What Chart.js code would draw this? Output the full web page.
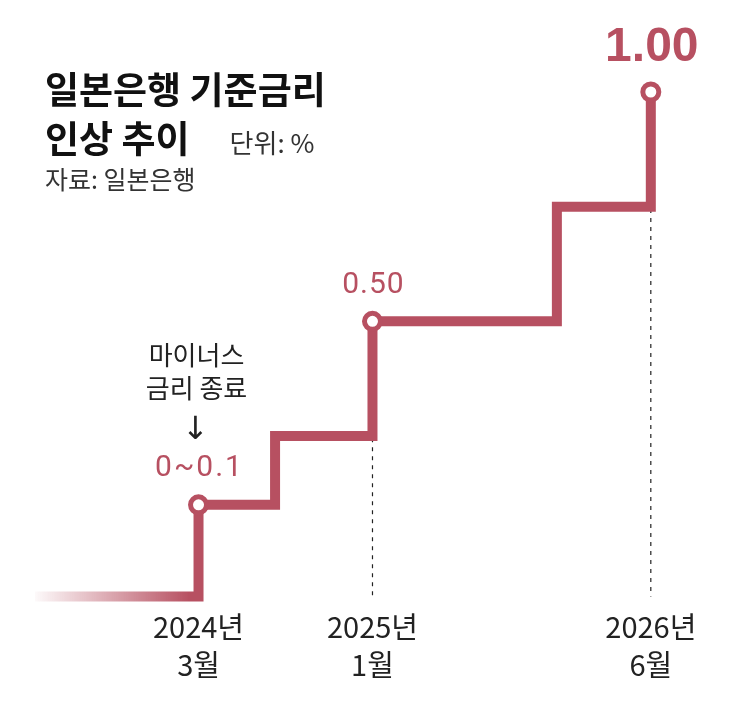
<!DOCTYPE html>
<html>
<head>
<meta charset="utf-8">
<title>일본은행 기준금리 인상 추이</title>
<script src="https://cdn.jsdelivr.net/npm/chart.js@4/dist/chart.umd.min.js"></script>
<style>
  body { margin: 0; background: #fff; }
  #wrap { position: relative; width: 743px; height: 704px; }
  #chart { position: absolute; left: 0; top: 0; }
  .t { position: absolute; left: 45px; font-family: "Noto Sans CJK KR", "Noto Sans", sans-serif; white-space: nowrap; }
  .big { font-size: 37px; line-height: 37px; font-weight: 700; color: #111; }
  .unit { font-size: 26px; font-weight: 400; color: #333; margin-left: 40px; }
  .src { font-size: 25px; line-height: 25px; color: #333; }
</style>
</head>
<body>
<div id="wrap">
  <canvas id="chart" width="743" height="704"></canvas>
  <div class="t big" style="top:70px">일본은행 기준금리</div>
  <div class="t big" style="top:119px">인상 추이<span class="unit">단위: %</span></div>
  <div class="t src" style="top:166px">자료: 일본은행</div>
</div>
<script>
// months counted from March 2024 (0 = 2024년 3월)
var stepMonths = [-9.4, 0, 4.4, 10, 20.6, 26];
var stepRates  = [-0.1, 0.1, 0.25, 0.5, 0.75, 1.0];

// points with a circle and a value label
var markIdx    = [1, 3, 5];
var markLabels = ["0~0.1", "0.50", "1.00"];

// dashed guides down to the axis
var guideMonths = [10, 26];
var guideRates  = [0.5, 1.0];

// x axis ticks
var tickMonths = [0, 10, 26];
var tickLabels = [["2024년", "3월"], ["2025년", "1월"], ["2026년", "6월"]];

var note = ["마이너스", "금리 종료"];

var RED = "rgb(183,80,97)";

var stepData = stepMonths.map(function(m, i) { return { x: m, y: stepRates[i] }; });

var datasets = [{
  data: stepData,
  stepped: true,
  fill: false,
  borderWidth: 10,
  borderJoinStyle: "miter",
  borderCapStyle: "butt",
  borderColor: function(ctx) {
    var area = ctx.chart.chartArea;
    if (!area) return RED;
    var g = ctx.chart.ctx.createLinearGradient(area.left, 0, area.left + 155, 0);
    g.addColorStop(0, "rgba(183,80,97,0.03)");
    g.addColorStop(1, "rgba(183,80,97,1)");
    return g;
  },
  pointRadius: stepData.map(function(d, i) { return markIdx.indexOf(i) >= 0 ? 8 : 0; }),
  pointBorderWidth: 5,
  pointBackgroundColor: "#fff",
  pointBorderColor: RED,
  clip: false,
  order: 0
}];

guideMonths.forEach(function(m, i) {
  datasets.push({
    data: [{ x: m, y: guideRates[i] }, { x: m, y: -0.1 }],
    borderColor: "#222",
    borderWidth: 1.2,
    borderDash: [4, 5],
    pointRadius: 0,
    fill: false,
    clip: false,
    order: 1
  });
});

var labelPlugin = {
  id: "labels",
  afterDatasetsDraw: function(chart) {
    var ctx = chart.ctx;
    var meta = chart.getDatasetMeta(0);
    ctx.save();
    ctx.textAlign = "center";
    ctx.textBaseline = "middle";
    markIdx.forEach(function(idx, k) {
      var p = meta.data[idx];
      ctx.fillStyle = RED;
      if (k === markIdx.length - 1) {
        ctx.font = "bold 48px 'Liberation Sans', Arial, sans-serif";
        ctx.fillText(markLabels[k], p.x + 1, p.y - 44);
      } else {
        ctx.font = "400 30px 'Roboto', 'Liberation Sans', sans-serif";
        ctx.letterSpacing = k === 0 ? "2px" : "1px";
        ctx.fillText(markLabels[k], p.x + 1, p.y - 36);
        ctx.letterSpacing = "0px";
      }
    });
    // note above the first mark
    var p0 = meta.data[markIdx[0]];
    ctx.fillStyle = "#222";
    ctx.font = "26px 'Noto Sans CJK KR', sans-serif";
    ctx.fillText(note[0], p0.x - 2, p0.y - 150);
    ctx.fillText(note[1], p0.x - 2, p0.y - 117);
    ctx.font = "32px 'DejaVu Sans', sans-serif";
    ctx.fillText("↓", p0.x - 3, p0.y - 74);
    ctx.restore();
  }
};

new Chart(document.getElementById("chart"), {
  type: "line",
  data: { datasets: datasets },
  options: {
    responsive: false,
    animation: false,
    devicePixelRatio: 1,
    layout: { padding: { left: 35, right: 40, top: 92, bottom: 8 } },
    plugins: { legend: { display: false }, tooltip: { enabled: false } },
    scales: {
      x: {
        type: "linear",
        min: -9.4,
        max: 29,
        grid: { display: false, drawTicks: false },
        border: { display: false },
        afterBuildTicks: function(scale) {
          scale.ticks = tickMonths.map(function(v) { return { value: v }; });
        },
        ticks: {
          autoSkip: false,
          maxRotation: 0,
          padding: 12,
          color: "#222",
          font: { family: "'Liberation Sans Narrow', 'Noto Sans CJK KR', sans-serif", size: 29, lineHeight: 1.3 },
          callback: function(v) {
            var i = tickMonths.indexOf(v);
            return i >= 0 ? tickLabels[i] : "";
          }
        }
      },
      y: { display: false, min: -0.1, max: 1.0 }
    }
  },
  plugins: [labelPlugin]
});
</script>
</body>
</html>
